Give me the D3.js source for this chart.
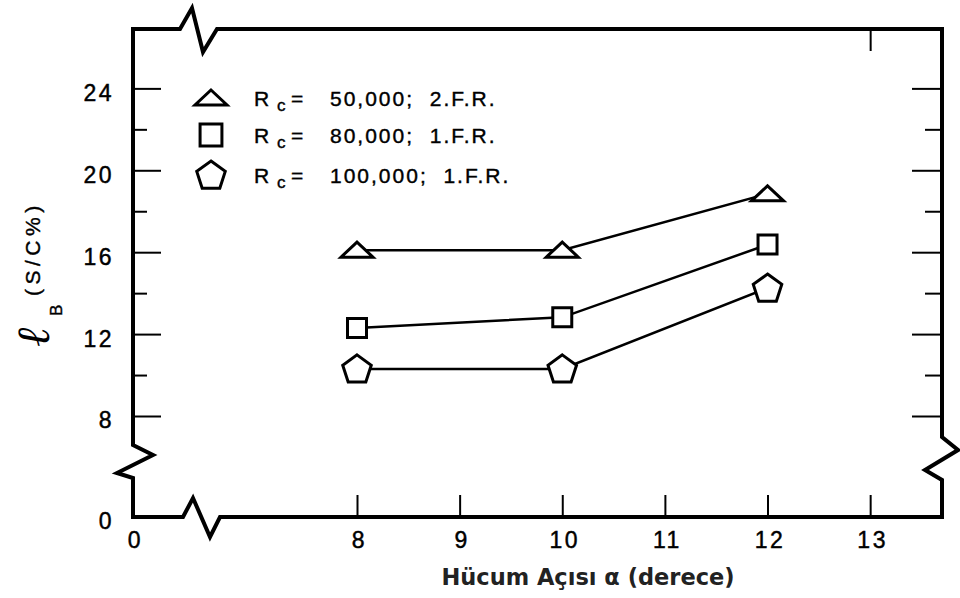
<!DOCTYPE html>
<html>
<head>
<meta charset="utf-8">
<script src="https://cdn.jsdelivr.net/npm/d3@7"></script>
<style>
  body { margin: 0; background: #fff; }
  svg { display: block; }
  text { font-family: "Liberation Sans", Arial, sans-serif; fill: #000; }
</style>
</head>
<body>
<svg id="chart" width="960" height="598"></svg>
<script>
// Angle of attack (degrees) and boundary-layer length lB (S/C %) per Reynolds number
const alpha = [8, 10, 12];
const lbRc50 = [16.1, 16.1, 18.85];
const lbRc80 = [12.3, 12.82, 16.37];
const lbRc100 = [10.3, 10.3, 14.25];

const rcValues = ["50,000", "80,000", "100,000"];
const frLabels = ["2.F.R.", "1.F.R.", "1.F.R."];
const markerKinds = ["triangle", "square", "pentagon"];

const xTickValues = [0, 8, 9, 10, 11, 12, 13];
const xTopTicks = [13];
const yMajorTicks = [0, 8, 12, 16, 20, 24];
const yMinorTicks = [10, 14, 18, 22];

const series = [lbRc50, lbRc80, lbRc100].map((vals, i) => ({
  kind: markerKinds[i],
  rc: rcValues[i],
  fr: frLabels[i],
  points: alpha.map((a, j) => ({ a, v: vals[j] }))
}));

const svg = d3.select("#chart");

// Broken axes: 0 is shown at the corner, then the scale jumps to 8
const x = d3.scaleLinear().domain([0, 8, 13.7]).range([133, 357, 942]);
const y = d3.scaleLinear().domain([0, 8, 26.9]).range([517, 416, 29]);

const L = x(0), R = x(13.7), B = y(0), T = y(26.9);

// Frame with zig-zag break marks on all four sides
const frame = [
  [L, B], [L, 478], [117, 473], [153, 455], [L, 445],
  [L, T], [180, T], [192, T - 21], [203, T + 23], [217, T],
  [R, T], [R, 437], [958, 450], [925, 470], [R, 480],
  [R, B], [220, B], [210, B + 20], [193, B - 19], [183, B]
];
svg.append("path")
  .attr("d", d3.line()(frame) + "Z")
  .attr("fill", "none")
  .attr("stroke", "#000")
  .attr("stroke-width", 4)
  .attr("stroke-linejoin", "miter");

function styleAxis(g) {
  g.select(".domain").remove();
  g.attr("font-family", null).attr("font-size", null);
  g.selectAll(".tick line").attr("stroke", "#000").attr("stroke-width", 2);
  g.selectAll(".tick text")
    .attr("fill", "#000")
    .attr("stroke", "#000")
    .attr("stroke-width", 0.45)
    .style("font-size", "23px")
    .style("letter-spacing", "2.5px");
}

// Bottom axis with labels
svg.append("g")
  .attr("transform", `translate(0,${B})`)
  .call(d3.axisBottom(x).tickValues(xTickValues).tickSize(-22).tickPadding(15).tickFormat(d3.format("d")))
  .call(styleAxis)
  .call(g => g.selectAll(".tick text").attr("dx", "2px"));

// Top axis tick
svg.append("g")
  .attr("transform", `translate(0,${T})`)
  .call(d3.axisTop(x).tickValues(xTopTicks).tickSize(-22).tickFormat(""))
  .call(styleAxis);

// Left axis: major with labels, minor without
svg.append("g")
  .attr("transform", `translate(${L},0)`)
  .call(d3.axisLeft(y).tickValues(yMajorTicks).tickSize(-28).tickPadding(19).tickFormat(d3.format("d")))
  .call(styleAxis)
  .call(g => g.selectAll(".tick text").attr("dy", "0.52em"));

svg.append("g")
  .attr("transform", `translate(${L},0)`)
  .call(d3.axisLeft(y).tickValues(yMinorTicks).tickSize(-14).tickFormat(""))
  .call(styleAxis);

// Right axis ticks pointing inward
svg.append("g")
  .attr("transform", `translate(${R},0)`)
  .call(d3.axisRight(y).tickValues(yMajorTicks.filter(d => d > 0)).tickSize(-30).tickFormat(""))
  .call(styleAxis);

svg.append("g")
  .attr("transform", `translate(${R},0)`)
  .call(d3.axisRight(y).tickValues(yMinorTicks).tickSize(-17).tickFormat(""))
  .call(styleAxis);

// Marker outlines
function markerPath(kind, s) {
  if (kind === "triangle") {
    return `M0,${-8 * s}L${16 * s},${7 * s}L${-16 * s},${7 * s}Z`;
  }
  if (kind === "square") {
    const h = 9.5 * s;
    return `M${-h},${-h}H${h}V${h}H${-h}Z`;
  }
  const r = 15 * s;
  const pts = d3.range(5).map(k => {
    const t = -Math.PI / 2 + k * 2 * Math.PI / 5;
    return [r * Math.cos(t), r * Math.sin(t) + 1];
  });
  return d3.line()(pts) + "Z";
}

// Connecting lines
const line = d3.line().x(d => x(d.a)).y(d => y(d.v));
svg.append("g").selectAll("path")
  .data(series)
  .join("path")
  .attr("d", d => line(d.points))
  .attr("fill", "none")
  .attr("stroke", "#000")
  .attr("stroke-width", 2.5);

// Data markers
series.forEach(s => {
  svg.append("g").selectAll("path")
    .data(s.points)
    .join("path")
    .attr("transform", d => `translate(${x(d.a)},${y(d.v)})`)
    .attr("d", markerPath(s.kind, 1))
    .attr("fill", "#fff")
    .attr("stroke", "#000")
    .attr("stroke-width", 3)
    .attr("stroke-linejoin", "miter");
});

// Legend
const legend = svg.append("g");
const rowY = [98, 135, 175];
series.forEach((s, i) => {
  const row = legend.append("g").attr("transform", `translate(0,${rowY[i]})`);
  row.append("path")
    .attr("transform", `translate(211,0)`)
    .attr("d", markerPath(s.kind, s.kind === "square" ? 1.15 : 1))
    .attr("fill", "#fff")
    .attr("stroke", "#000")
    .attr("stroke-width", 3);
  const t = row.append("text")
    .attr("y", 8)
    .attr("stroke", "#000")
    .attr("stroke-width", 0.4)
    .style("font-size", "21px")
    .style("white-space", "pre");
  t.append("tspan").attr("x", 254).text("R");
  t.append("tspan").attr("x", 277).attr("dy", 5).style("font-size", "17px").text("c");
  t.append("tspan").attr("x", 291).attr("dy", -5).text("=");
  t.append("tspan").attr("x", 330).style("letter-spacing", "2px").text(`${s.rc};  ${s.fr}`);
});

// Y axis title: script l with subscript B, then the unit
svg.append("text")
  .attr("transform", "translate(49,347) rotate(-90)")
  .style("font-family", "'DejaVu Serif', serif")
  .style("font-style", "italic")
  .style("font-size", "46px")
  .text("ℓ");
svg.append("text")
  .attr("transform", "translate(62,316) rotate(-90)")
  .attr("stroke", "#000")
  .attr("stroke-width", 0.4)
  .style("font-size", "17px")
  .text("B");
svg.append("text")
  .attr("transform", "translate(40,296) rotate(-90)")
  .attr("stroke", "#000")
  .attr("stroke-width", 0.4)
  .style("font-size", "21px")
  .style("letter-spacing", "4.5px")
  .text("(S/C%)");

// X axis title
svg.append("text")
  .attr("x", 588)
  .attr("y", 585)
  .attr("text-anchor", "middle")
  .style("font-family", "'DejaVu Sans', sans-serif")
  .style("font-weight", "700")
  .style("font-size", "22.5px")
  .style("fill", "#222")
  .text("Hücum Açısı α (derece)");
</script>
</body>
</html>
